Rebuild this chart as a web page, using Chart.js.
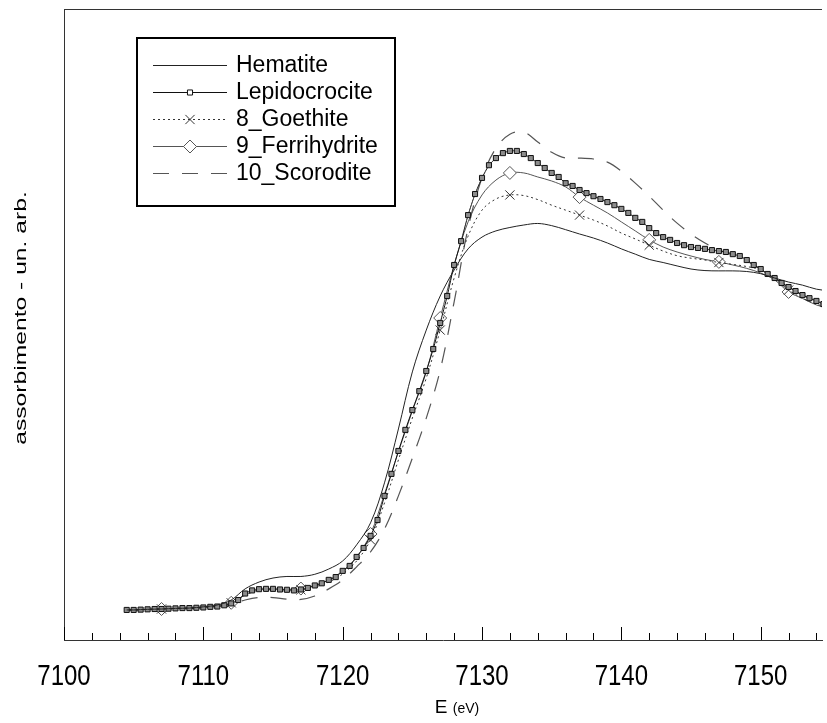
<!DOCTYPE html>
<html>
<head>
<meta charset="utf-8">
<title>XANES Fe K-edge</title>
<script src="https://cdn.jsdelivr.net/npm/chart.js@4.4.1/dist/chart.umd.min.js"></script>
<style>
  html, body { margin: 0; padding: 0; background: #fff; }
  #wrap { width: 827px; height: 723px; }
</style>
</head>
<body>
<div id="wrap"><canvas id="xanes" width="827" height="723"></canvas></div>
<script>
const seriesNames = ['Hematite', 'Lepidocrocite', '8_Goethite', '9_Ferrihydrite', '10_Scorodite'];
const majorTicks = [7100, 7110, 7120, 7130, 7140, 7150];

// Lepidocrocite is sampled every 0.5 eV (dense square markers)
const energyFine = [
  7104.5, 7105, 7105.5, 7106, 7106.5, 7107, 7107.5, 7108, 7108.5, 7109,
  7109.5, 7110, 7110.5, 7111, 7111.5, 7112, 7112.5, 7113, 7113.5, 7114,
  7114.5, 7115, 7115.5, 7116, 7116.5, 7117, 7117.5, 7118, 7118.5, 7119,
  7119.5, 7120, 7120.5, 7121, 7121.5, 7122, 7122.5, 7123, 7123.5, 7124,
  7124.5, 7125, 7125.5, 7126, 7126.5, 7127, 7127.5, 7128, 7128.5, 7129,
  7129.5, 7130, 7130.5, 7131, 7131.5, 7132, 7132.5, 7133, 7133.5, 7134,
  7134.5, 7135, 7135.5, 7136, 7136.5, 7137, 7137.5, 7138, 7138.5, 7139,
  7139.5, 7140, 7140.5, 7141, 7141.5, 7142, 7142.5, 7143, 7143.5, 7144,
  7144.5, 7145, 7145.5, 7146, 7146.5, 7147, 7147.5, 7148, 7148.5, 7149,
  7149.5, 7150, 7150.5, 7151, 7151.5, 7152, 7152.5, 7153, 7153.5, 7154,
  7154.5
];
const lepidocrocite = [
  0.000, 0.000, 0.001, 0.002, 0.003, 0.003, 0.004, 0.005, 0.006, 0.006,
  0.007, 0.008, 0.010, 0.011, 0.015, 0.021, 0.032, 0.053, 0.063, 0.067,
  0.068, 0.068, 0.066, 0.065, 0.063, 0.066, 0.071, 0.079, 0.086, 0.097,
  0.106, 0.126, 0.142, 0.171, 0.200, 0.239, 0.290, 0.368, 0.439, 0.513,
  0.581, 0.645, 0.706, 0.771, 0.842, 0.926, 1.013, 1.113, 1.190, 1.274,
  1.342, 1.394, 1.435, 1.458, 1.474, 1.481, 1.481, 1.471, 1.458, 1.442,
  1.426, 1.410, 1.397, 1.377, 1.368, 1.355, 1.345, 1.335, 1.326, 1.316,
  1.306, 1.294, 1.281, 1.265, 1.252, 1.232, 1.216, 1.203, 1.194, 1.184,
  1.177, 1.171, 1.168, 1.165, 1.161, 1.158, 1.155, 1.148, 1.142, 1.129,
  1.113, 1.100, 1.084, 1.071, 1.055, 1.042, 1.029, 1.016, 1.006, 0.997,
  0.987
];

// the other spectra every 1 eV
const energyCoarse = [
  7104.5, 7105, 7106, 7107, 7108, 7109, 7110, 7111, 7112, 7113,
  7114, 7115, 7116, 7117, 7118, 7119, 7120, 7121, 7122, 7123,
  7124, 7125, 7126, 7127, 7128, 7129, 7130, 7131, 7132, 7133,
  7134, 7135, 7136, 7137, 7138, 7139, 7140, 7141, 7142, 7143,
  7144, 7145, 7146, 7147, 7148, 7149, 7150, 7151, 7152, 7153,
  7154, 7155
];
const hematite = [
  0.000, 0.000, 0.002, 0.003, 0.005, 0.006, 0.010, 0.016, 0.032, 0.068,
  0.090, 0.103, 0.108, 0.108, 0.115, 0.132, 0.158, 0.210, 0.281, 0.410,
  0.584, 0.768, 0.903, 1.013, 1.097, 1.165, 1.203, 1.223, 1.234, 1.242,
  1.247, 1.240, 1.227, 1.213, 1.200, 1.184, 1.165, 1.148, 1.131, 1.121,
  1.110, 1.100, 1.095, 1.094, 1.094, 1.092, 1.085, 1.071, 1.058, 1.048,
  1.035, 1.029
];
const goethite = [
  0.000, 0.000, 0.002, 0.003, 0.005, 0.006, 0.008, 0.013, 0.023, 0.048,
  0.063, 0.065, 0.061, 0.065, 0.074, 0.090, 0.116, 0.158, 0.226, 0.345,
  0.484, 0.619, 0.748, 0.903, 1.071, 1.206, 1.290, 1.326, 1.339, 1.337,
  1.324, 1.306, 1.290, 1.274, 1.258, 1.239, 1.216, 1.197, 1.177, 1.158,
  1.143, 1.135, 1.129, 1.121, 1.115, 1.108, 1.097, 1.068, 1.032, 1.006,
  0.987, 0.974
];
const ferrihydrite = [
  0.000, 0.000, 0.002, 0.003, 0.005, 0.006, 0.010, 0.015, 0.023, 0.048,
  0.065, 0.068, 0.066, 0.069, 0.079, 0.097, 0.126, 0.171, 0.245, 0.374,
  0.510, 0.642, 0.768, 0.942, 1.113, 1.252, 1.339, 1.387, 1.410, 1.410,
  1.397, 1.384, 1.365, 1.332, 1.306, 1.281, 1.252, 1.223, 1.194, 1.171,
  1.155, 1.142, 1.131, 1.123, 1.113, 1.102, 1.087, 1.065, 1.026, 1.005,
  0.984, 0.971
];
const scorodite = [
  0.000, 0.000, 0.002, 0.002, 0.003, 0.005, 0.006, 0.011, 0.019, 0.032,
  0.040, 0.040, 0.035, 0.034, 0.045, 0.068, 0.097, 0.139, 0.187, 0.261,
  0.368, 0.490, 0.619, 0.774, 0.994, 1.232, 1.394, 1.490, 1.535, 1.542,
  1.510, 1.477, 1.458, 1.458, 1.455, 1.445, 1.416, 1.377, 1.335, 1.290,
  1.248, 1.213, 1.184, 1.161, 1.145, 1.126, 1.100, 1.071, 1.042, 1.016,
  0.997, 0.984
];

const FONT = "'Liberation Sans', Arial, sans-serif";
const xy = (xs, ys) => ys.map((y, i) => ({ x: xs[i], y: y }));
// goethite / ferrihydrite markers only every 5 eV (7107, 7112, ...)
const every5 = ctx => ctx.dataIndex >= 3 && (ctx.dataIndex - 3) % 5 === 0;

function markerPath(ctx, style, x, y, r) {
  ctx.beginPath();
  if (style === 'rect') {
    const s = r * Math.SQRT1_2;
    ctx.rect(x - s, y - s, 2 * s, 2 * s);
  } else if (style === 'rectRot') {
    ctx.moveTo(x, y - r); ctx.lineTo(x + r, y); ctx.lineTo(x, y + r); ctx.lineTo(x - r, y); ctx.closePath();
  } else if (style === 'crossRot') {
    const s = r * Math.SQRT1_2;
    ctx.moveTo(x - s, y - s); ctx.lineTo(x + s, y + s);
    ctx.moveTo(x + s, y - s); ctx.lineTo(x - s, y + s);
  }
}

const framePlugin = {
  id: 'frame',
  afterDraw(chart) {
    const ctx = chart.ctx;
    const area = chart.chartArea;
    const xs = chart.scales.x;
    ctx.save();
    ctx.strokeStyle = '#333';
    ctx.lineWidth = 1;
    // top border of the plot frame
    ctx.beginPath();
    ctx.moveTo(area.left, area.top + 0.5);
    ctx.lineTo(area.right, area.top + 0.5);
    ctx.stroke();

    // inward ticks on the energy axis
    ctx.strokeStyle = '#000';
    xs.ticks.forEach(t => {
      const px = Math.round(xs.getPixelForValue(t.value)) + 0.5;
      const len = majorTicks.includes(t.value) ? 13 : 7;
      ctx.beginPath();
      ctx.moveTo(px, area.bottom);
      ctx.lineTo(px, area.bottom - len);
      ctx.stroke();
    });

    // tick labels (the source font is a bit taller than Arial)
    ctx.fillStyle = '#000';
    ctx.textAlign = 'center';
    ctx.textBaseline = 'middle';
    ctx.font = '24px ' + FONT;
    majorTicks.forEach(v => {
      ctx.save();
      ctx.translate(xs.getPixelForValue(v), 677);
      ctx.scale(1, 1.2);
      ctx.fillText(String(v), 0, 0);
      ctx.restore();
    });

    // axis title E (eV)
    ctx.textBaseline = 'alphabetic';
    ctx.textAlign = 'left';
    ctx.font = '19px ' + FONT;
    const wE = ctx.measureText('E ').width;
    ctx.font = '14px ' + FONT;
    const wU = ctx.measureText('(eV)').width;
    const x0 = (area.left + area.right) / 2 + 14 - (wE + wU) / 2;
    ctx.font = '19px ' + FONT;
    ctx.fillText('E ', x0, 713);
    ctx.font = '14px ' + FONT;
    ctx.fillText('(eV)', x0 + wE, 713);

    // y title, drawn stretched along its length like the source
    ctx.save();
    ctx.translate(21, 318);
    ctx.rotate(-Math.PI / 2);
    ctx.scale(1.45, 1);
    ctx.textAlign = 'center';
    ctx.textBaseline = 'middle';
    ctx.font = '17px ' + FONT;
    ctx.fillText('assorbimento - un. arb.', 0, 0);
    ctx.restore();

    // legend box
    const bx = 136, by = 37, bw = 260, bh = 170;
    ctx.fillStyle = '#fff';
    ctx.fillRect(bx, by, bw, bh);
    ctx.lineWidth = 2;
    ctx.strokeStyle = '#000';
    ctx.strokeRect(bx + 1, by + 1, bw - 2, bh - 2);
    chart.data.datasets.forEach((ds, i) => {
      const ry = 65 + i * 27;
      ctx.save();
      ctx.strokeStyle = ds.borderColor;
      ctx.lineWidth = 1;
      ctx.setLineDash(ds.legendDash || []);
      ctx.beginPath();
      ctx.moveTo(153, ry + 0.5);
      ctx.lineTo(227, ry + 0.5);
      ctx.stroke();
      ctx.setLineDash([]);
      if (ds.legendMarker) {
        ctx.fillStyle = ds.legendFill;
        ctx.strokeStyle = ds.pointBorderColor;
        markerPath(ctx, ds.pointStyle, 190, ry + 0.5, ds.legendMarker);
        if (ds.pointStyle !== 'crossRot') ctx.fill();
        ctx.stroke();
      }
      ctx.fillStyle = '#000';
      ctx.font = '23px ' + FONT;
      ctx.textBaseline = 'middle';
      ctx.fillText(ds.label, 236, ry + 1);
      ctx.restore();
    });
    ctx.restore();
  }
};

new Chart(document.getElementById('xanes'), {
  type: 'line',
  data: {
    datasets: [
      {
        label: seriesNames[0],
        data: xy(energyCoarse, hematite),
        borderColor: '#222',
        borderWidth: 1,
        pointRadius: 0,
        tension: 0.35
      },
      {
        label: seriesNames[1],
        data: xy(energyFine, lepidocrocite),
        borderColor: '#111',
        borderWidth: 1,
        pointStyle: 'rect',
        pointRadius: 3.6,
        pointBorderWidth: 1,
        pointBorderColor: '#111',
        pointBackgroundColor: '#8c8c8c',
        legendMarker: 3.6,
        legendFill: '#fff',
        tension: 0.2
      },
      {
        label: seriesNames[2],
        data: xy(energyCoarse, goethite),
        borderColor: '#333',
        borderWidth: 1,
        borderDash: [2, 3],
        legendDash: [2, 3],
        pointStyle: 'crossRot',
        pointRadius: ctx => every5(ctx) ? 6.5 : 0,
        pointBorderWidth: 1,
        pointBorderColor: '#333',
        pointBackgroundColor: 'rgba(0,0,0,0)',
        legendMarker: 6.5,
        legendFill: 'rgba(0,0,0,0)',
        tension: 0.35
      },
      {
        label: seriesNames[3],
        data: xy(energyCoarse, ferrihydrite),
        borderColor: '#555',
        borderWidth: 1,
        pointStyle: 'rectRot',
        pointRadius: ctx => every5(ctx) ? 6.5 : 0,
        pointBorderWidth: 1,
        pointBorderColor: '#555',
        pointBackgroundColor: '#fff',
        legendMarker: 6.5,
        legendFill: '#fff',
        tension: 0.35
      },
      {
        label: seriesNames[4],
        data: xy(energyCoarse, scorodite),
        borderColor: '#555',
        borderWidth: 1.2,
        borderDash: [16, 13],
        legendDash: [16, 13],
        pointRadius: 0,
        tension: 0.35
      }
    ]
  },
  options: {
    responsive: false,
    animation: false,
    events: [],
    layout: { padding: { top: 9, left: 0, right: 0, bottom: 0 } },
    plugins: { legend: { display: false }, tooltip: { enabled: false } },
    scales: {
      x: {
        type: 'linear',
        min: 7100,
        max: 7154.4,
        grid: { display: false, drawTicks: false },
        border: { display: true, color: '#333', width: 1 },
        afterFit: s => { s.height = 83; },
        ticks: {
          display: false,
          stepSize: 2,
          includeBounds: false,
          autoSkip: false
        }
      },
      y: {
        type: 'linear',
        min: -0.097,
        max: 1.939,
        grid: { display: false, drawTicks: false },
        border: { display: true, color: '#333', width: 1 },
        ticks: { display: false },
        afterFit: s => { s.width = 64; }
      }
    }
  },
  plugins: [framePlugin]
});
</script>
</body>
</html>
